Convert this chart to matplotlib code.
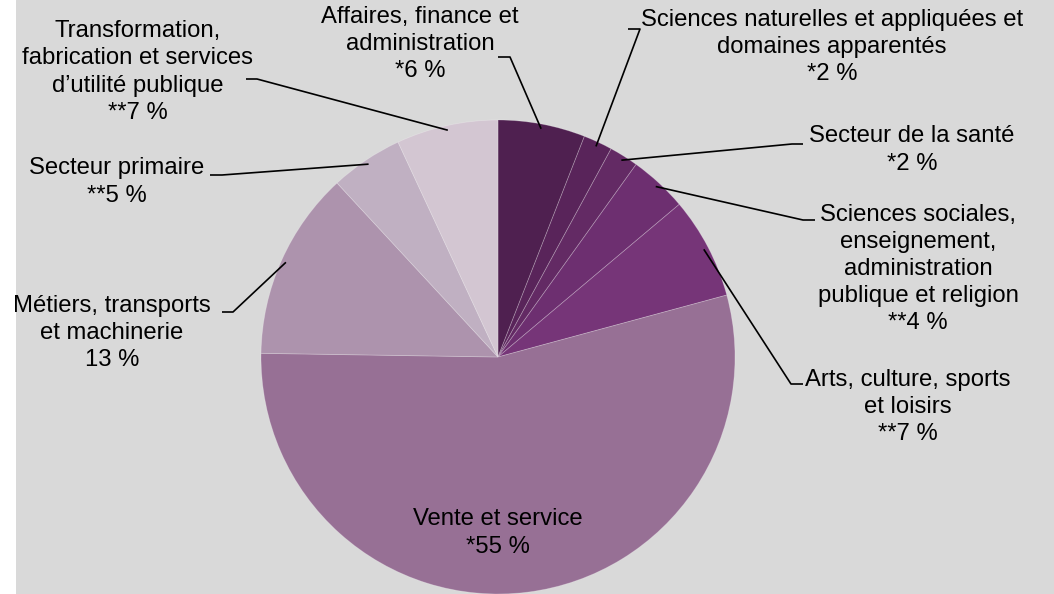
import numpy as np
import matplotlib
matplotlib.use('Agg')
from matplotlib import pyplot as plt

plt.rcParams['font.family'] = ['Liberation Sans', 'DejaVu Sans']

categories = [
    'Affaires, finance et\nadministration',
    'Sciences naturelles et appliquées et\ndomaines apparentés',
    'Secteur de la santé',
    'Sciences sociales,\nenseignement,\nadministration\npublique et religion',
    'Arts, culture, sports\net loisirs',
    'Vente et service',
    'Métiers, transports\net machinerie',
    'Secteur primaire',
    'Transformation,\nfabrication et services\nd\u2019utilité publique',
]
values = [6, 2, 2, 4, 7, 55, 13, 5, 7]
flags = ['*', '*', '*', '**', '**', '*', '', '**', '**']
colors = ['#4f2050', '#59245a', '#632a64', '#6d2f70', '#763578',
          '#977095', '#ad93ad', '#c0b0c2', '#d3c6d2']

W, H = 1054, 594
fig = plt.figure(figsize=(W / 100, H / 100), dpi=100, facecolor='white')
ax = fig.add_axes([16 / W, 0, (W - 16) / W, 1])
ax.add_patch(plt.Rectangle((16, 0), W - 16, H, color='#d9d9d9', zorder=0))

cx, cy, r = 498, H - 357, 237
wedges, _ = ax.pie(values, colors=colors, startangle=90, counterclock=False,
                   center=(cx, cy), radius=r, frame=True,
                   wedgeprops=dict(edgecolor=(1, 1, 1, 0.25), linewidth=0.6))
ax.set_xlim(16, W)
ax.set_ylim(0, H)
ax.set_axis_off()

# label layout in pixels (top-left origin): text centre, elbow, line end
layout = [
    ((420, 44), (510, 57), (498, 57)),
    ((832, 47), (640, 29), (628, 29)),
    ((912, 150), (792, 144), (803, 144)),
    ((918, 269), (803, 220), (815, 220)),
    ((908, 407), (791, 384), (803, 384)),
    ((498, 533), None, None),
    ((112, 333), (233, 312), (222, 312)),
    ((117, 182), (222, 175), (210, 175)),
    ((138, 72), (257, 79), (246, 79)),
]

for w, cat, v, f, (tpos, elbow, end) in zip(wedges, categories, values, flags, layout):
    label = f'{cat}\n{f}{v} %'
    ax.text(tpos[0], H - tpos[1], label, ha='center', va='center',
            fontsize=17.2, linespacing=1.3, color='black')
    if elbow is None:
        continue
    ang = np.deg2rad((w.theta1 + w.theta2) / 2)
    px = cx + 0.98 * r * np.cos(ang)
    py = cy + 0.98 * r * np.sin(ang)
    ax.plot([px, elbow[0], end[0]], [py, H - elbow[1], H - end[1]],
            color='black', lw=1.2, solid_capstyle='butt')

fig.savefig('out.png', dpi=100, facecolor='white')
